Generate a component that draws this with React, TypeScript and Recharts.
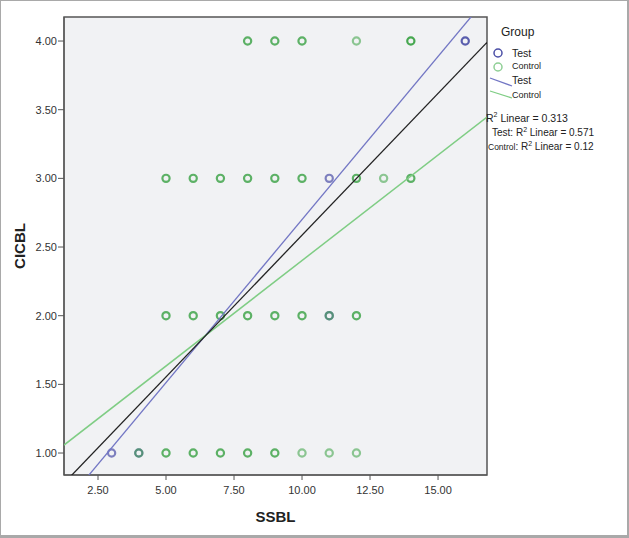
import React from "react";
import {
  ScatterChart,
  Scatter,
  XAxis,
  YAxis,
  ReferenceArea,
  Label,
} from "recharts";

// SSBL / CICBL points; n = how many cases overlap on the spot
const controlPoints = [
  { x: 8, y: 4, n: 2 }, { x: 9, y: 4, n: 2 }, { x: 10, y: 4, n: 2 },
  { x: 12, y: 4, n: 1 }, { x: 14, y: 4, n: 3 },
  { x: 5, y: 3, n: 2 }, { x: 6, y: 3, n: 2 }, { x: 7, y: 3, n: 2 },
  { x: 8, y: 3, n: 2 }, { x: 9, y: 3, n: 2 }, { x: 10, y: 3, n: 2 },
  { x: 12, y: 3, n: 2 }, { x: 13, y: 3, n: 1 }, { x: 14, y: 3, n: 2 },
  { x: 5, y: 2, n: 2 }, { x: 6, y: 2, n: 2 }, { x: 7, y: 2, n: 2 },
  { x: 8, y: 2, n: 2 }, { x: 9, y: 2, n: 2 }, { x: 10, y: 2, n: 2 },
  { x: 11, y: 2, n: 1 }, { x: 12, y: 2, n: 2 },
  { x: 4, y: 1, n: 1 }, { x: 5, y: 1, n: 2 }, { x: 6, y: 1, n: 2 },
  { x: 7, y: 1, n: 2 }, { x: 8, y: 1, n: 2 }, { x: 9, y: 1, n: 2 },
  { x: 10, y: 1, n: 1 }, { x: 11, y: 1, n: 1 }, { x: 12, y: 1, n: 1 },
];

const testPoints = [
  { x: 3, y: 1, n: 1 },
  { x: 4, y: 1, n: 1 },
  { x: 11, y: 2, n: 1 },
  { x: 11, y: 3, n: 1 },
  { x: 16, y: 4, n: 2 },
];

// fit lines, end points
const totalFit = [
  { x: 1.25, y: 0.78 },
  { x: 16.8, y: 3.99 },
];
const testFit = [
  { x: 1.25, y: 0.622 },
  { x: 16.8, y: 4.315 },
];
const controlFit = [
  { x: 1.25, y: 1.058 },
  { x: 16.8, y: 3.446 },
];

const xTicks = [2.5, 5, 7.5, 10, 12.5, 15];
const yTicks = [1, 1.5, 2, 2.5, 3, 3.5, 4];
const xDomain = [1.25, 16.8];
const yDomain = [0.84, 4.175];

const TEST = "#4b4fa6";
const CONTROL = "#36a040";

const ring = (color: string, base: number) => (props: any) => {
  const { cx, cy, payload } = props;
  const n = payload?.n ?? 1;
  const op = 1 - Math.pow(1 - base, n);
  return (
    <circle
      cx={cx}
      cy={cy}
      r={3.6}
      fill="none"
      stroke={color}
      strokeWidth={2.2}
      strokeOpacity={op}
    />
  );
};

const noDot = () => <g />;

const txt: React.CSSProperties = {
  position: "absolute",
  fontFamily: "Liberation Sans, Arial, sans-serif",
  color: "#222",
  whiteSpace: "nowrap",
  lineHeight: 1,
};

export default function App() {
  return (
    <div
      style={{
        position: "absolute",
        left: 0,
        top: 0,
        width: 629,
        height: 538,
        boxSizing: "border-box",
        borderStyle: "solid",
        borderColor: "#a9a9a9",
        borderWidth: "1px 2px 3px 1px",
        background: "#fff",
      }}
    >
      <div style={{ position: "absolute", left: -1, top: -1 }}>
        <ScatterChart
          width={629}
          height={538}
          margin={{ top: 17, right: 142, bottom: 8, left: 4 }}
        >
          <XAxis
            type="number"
            dataKey="x"
            domain={xDomain}
            ticks={xTicks}
            allowDataOverflow
            tickFormatter={(v: number) => v.toFixed(2)}
            height={55}
            axisLine={{ stroke: "#555" }}
            tickLine={{ stroke: "#555" }}
            tickSize={5}
            tickMargin={6}
            tick={{ fill: "#333", fontSize: 11, fontFamily: "Liberation Sans, Arial" }}
          >
            <Label
              value="SSBL"
              position="insideBottom"
              offset={8}
              style={{ fontWeight: "bold", fontSize: 15, fill: "#222", fontFamily: "Liberation Sans, Arial" }}
            />
          </XAxis>
          <YAxis
            type="number"
            dataKey="y"
            domain={yDomain}
            ticks={yTicks}
            allowDataOverflow
            tickFormatter={(v: number) => v.toFixed(2)}
            width={60}
            axisLine={{ stroke: "#555" }}
            tickLine={{ stroke: "#555" }}
            tickSize={6}
            tickMargin={1}
            tick={{ fill: "#333", fontSize: 11, fontFamily: "Liberation Sans, Arial" }}
          >
            <Label
              value="CICBL"
              angle={-90}
              position="insideLeft"
              offset={16}
              style={{ textAnchor: "middle", fontWeight: "bold", fontSize: 15, fill: "#222", fontFamily: "Liberation Sans, Arial" }}
            />
          </YAxis>
          <ReferenceArea
            x1={xDomain[0]}
            x2={xDomain[1]}
            y1={yDomain[0]}
            y2={yDomain[1]}
            fill="#f1f2f4"
            fillOpacity={1}
            stroke="#555"
            strokeWidth={1.5}
          />
          <Scatter data={testPoints} shape={ring(TEST, 0.7)} isAnimationActive={false} />
          <Scatter data={controlPoints} shape={ring(CONTROL, 0.55)} isAnimationActive={false} />
          <Scatter
            data={testFit}
            line={{ stroke: "#7276c4", strokeWidth: 1.3 }}
            shape={noDot}
            isAnimationActive={false}
          />
          <Scatter
            data={controlFit}
            line={{ stroke: "#7fcd84", strokeWidth: 1.5 }}
            shape={noDot}
            isAnimationActive={false}
          />
          <Scatter
            data={totalFit}
            line={{ stroke: "#222", strokeWidth: 1.3 }}
            shape={noDot}
            isAnimationActive={false}
          />
        </ScatterChart>
      </div>

      {/* legend, placed in page coordinates */}
      <div style={{ position: "absolute", left: -1, top: -1 }}>
        <div style={{ ...txt, left: 501, top: 26, fontSize: 12 }}>Group</div>
        <svg style={{ position: "absolute", left: 488, top: 45 }} width={30} height={60}>
          <circle cx={10} cy={8} r={4} fill="none" stroke={TEST} strokeWidth={1.5} />
          <circle cx={10} cy={22} r={4} fill="none" stroke="#8fcf95" strokeWidth={1.5} />
          <line x1={2} y1={33} x2={24} y2={41} stroke="#7276c4" strokeWidth={1.3} />
          <line x1={2} y1={46} x2={24} y2={53} stroke="#7fcd84" strokeWidth={1.3} />
        </svg>
        <div style={{ ...txt, left: 512, top: 48, fontSize: 10.5 }}>Test</div>
        <div style={{ ...txt, left: 512, top: 62, fontSize: 9 }}>Control</div>
        <div style={{ ...txt, left: 512, top: 75, fontSize: 10.5 }}>Test</div>
        <div style={{ ...txt, left: 512, top: 91, fontSize: 9 }}>Control</div>
        <div style={{ ...txt, left: 486, top: 111, fontSize: 10.5 }}>
          R<sup style={{ fontSize: 7 }}>2</sup> Linear = 0.313
        </div>
        <div style={{ ...txt, left: 492, top: 126, fontSize: 10 }}>
          Test: R<sup style={{ fontSize: 7 }}>2</sup> Linear = 0.571
        </div>
        <div style={{ ...txt, left: 488, top: 140, fontSize: 10 }}>
          <span style={{ fontSize: 8.5 }}>Control</span>: R<sup style={{ fontSize: 7 }}>2</sup> Linear = 0.12
        </div>
      </div>
    </div>
  );
}
